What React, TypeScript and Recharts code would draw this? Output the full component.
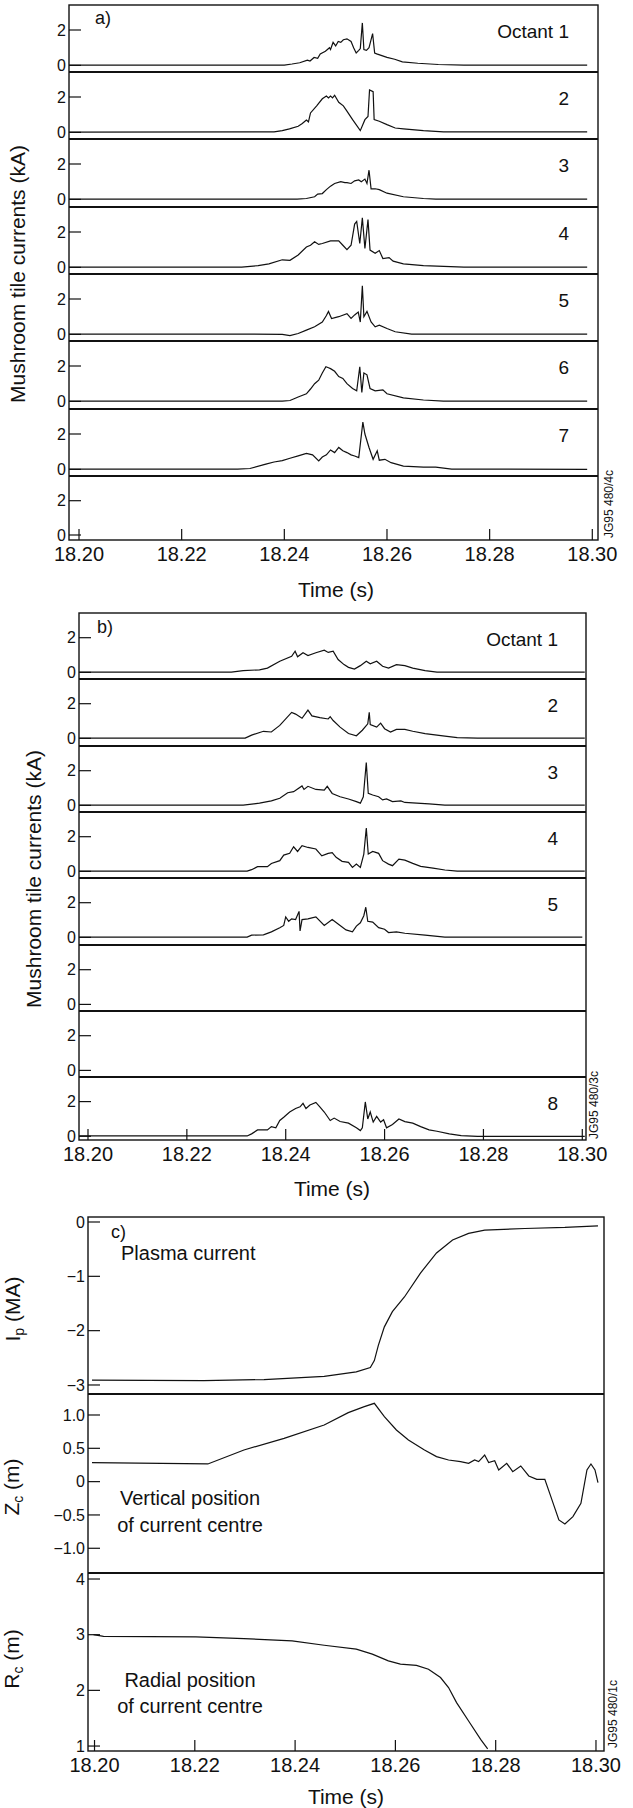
import React from "react";
import { LineChart, Line, XAxis, YAxis } from "recharts";

type Pt = [number, number];

// time axis ticks (s)
const timeTicks = [18.2, 18.22, 18.24, 18.26, 18.28, 18.3];

// ---- a) mushroom tile currents (kA), octants 1-7 ----
const aOct1: Pt[] = [
  [18.198, 0.02], [18.24, 0.02], [18.2415, 0.08], [18.243, 0.15], [18.2445, 0.3], [18.245, 0.25],
  [18.2458, 0.45], [18.2465, 0.4], [18.247, 0.65], [18.248, 0.8], [18.2488, 1.0], [18.249, 0.9],
  [18.2495, 1.3], [18.25, 1.1], [18.2505, 1.35], [18.251, 1.3], [18.2515, 1.45], [18.2522, 1.5],
  [18.253, 1.35], [18.2535, 1.0], [18.254, 0.7], [18.2545, 0.85], [18.2548, 0.95], [18.2552, 2.4],
  [18.2555, 0.9], [18.256, 0.85], [18.2565, 1.0], [18.2572, 1.8], [18.2576, 0.7], [18.258, 0.65],
  [18.259, 0.55], [18.26, 0.45], [18.2615, 0.35], [18.263, 0.2], [18.266, 0.12], [18.27, 0.05],
  [18.275, 0.02], [18.299, 0.02],
];
const aOct2: Pt[] = [
  [18.198, 0.02], [18.238, 0.03], [18.2396, 0.1], [18.241, 0.2], [18.2427, 0.35], [18.2435, 0.5],
  [18.2443, 0.7], [18.2447, 0.6], [18.2451, 1.1], [18.2463, 1.5], [18.2474, 1.9], [18.2482, 2.05],
  [18.2486, 1.95], [18.249, 2.05], [18.2494, 1.95], [18.2498, 2.1], [18.2506, 1.7], [18.2515, 1.5],
  [18.2522, 1.2], [18.2533, 0.72], [18.2548, 0.1], [18.2557, 0.72], [18.2563, 0.9], [18.2566, 2.4],
  [18.2573, 2.3], [18.2575, 0.72], [18.2585, 0.63], [18.26, 0.44], [18.2616, 0.25], [18.2632, 0.2],
  [18.2671, 0.1], [18.271, 0.03], [18.299, 0.03],
];
const aOct3: Pt[] = [
  [18.198, 0.02], [18.2425, 0.02], [18.2443, 0.05], [18.2459, 0.15], [18.2465, 0.3], [18.2474, 0.33],
  [18.2482, 0.55], [18.249, 0.75], [18.2498, 0.9], [18.251, 1.0], [18.2518, 0.95], [18.2522, 0.95],
  [18.253, 0.9], [18.2537, 1.05], [18.2545, 1.1], [18.255, 1.0], [18.2557, 1.15], [18.2561, 0.9],
  [18.2565, 1.65], [18.2569, 0.6], [18.2577, 0.6], [18.2585, 0.55], [18.26, 0.35], [18.2632, 0.15],
  [18.2671, 0.05], [18.2695, 0.02], [18.299, 0.02],
];
const aOct4: Pt[] = [
  [18.198, 0.02], [18.2317, 0.02], [18.2349, 0.1], [18.237, 0.2], [18.2396, 0.43], [18.2411, 0.4],
  [18.2427, 0.7], [18.2443, 1.15], [18.2451, 1.25], [18.2459, 1.45], [18.2467, 1.3], [18.2474, 1.35],
  [18.249, 1.5], [18.2506, 1.5], [18.2514, 1.25], [18.2522, 1.0], [18.253, 1.25], [18.2537, 2.45],
  [18.2541, 2.6], [18.2547, 1.35], [18.2552, 2.8], [18.2557, 1.07], [18.2563, 2.7], [18.2567, 0.98],
  [18.2577, 0.8], [18.2585, 0.95], [18.2592, 0.5], [18.2604, 0.55], [18.2612, 0.35], [18.2632, 0.2],
  [18.2671, 0.1], [18.275, 0.02], [18.299, 0.02],
];
const aOct5: Pt[] = [
  [18.198, 0.02], [18.2317, 0.02], [18.2396, 0.0], [18.2411, -0.07], [18.2427, 0.05], [18.2443, 0.24],
  [18.2459, 0.43], [18.2474, 0.7], [18.2482, 1.07], [18.2486, 1.3], [18.2492, 0.9], [18.2506, 1.0],
  [18.2522, 1.17], [18.253, 0.9], [18.2537, 1.1], [18.2544, 1.26], [18.2548, 0.7], [18.2552, 2.75],
  [18.2555, 1.0], [18.2561, 1.3], [18.2569, 0.7], [18.2577, 0.43], [18.2585, 0.52], [18.26, 0.33],
  [18.2616, 0.15], [18.2648, 0.02], [18.299, 0.02],
];
const aOct6: Pt[] = [
  [18.198, 0.02], [18.2396, 0.02], [18.2411, 0.05], [18.2419, 0.15], [18.2427, 0.25], [18.2443, 0.43],
  [18.2451, 0.7], [18.2459, 1.0], [18.2467, 1.2], [18.2474, 1.6], [18.2481, 1.96], [18.2486, 1.9],
  [18.249, 1.85], [18.2498, 1.7], [18.2506, 1.4], [18.2514, 1.3], [18.2522, 1.0], [18.2533, 0.73],
  [18.2541, 0.6], [18.2547, 1.96], [18.2551, 0.5], [18.2555, 1.6], [18.2561, 1.5], [18.2567, 0.73],
  [18.2577, 0.6], [18.2592, 0.65], [18.26, 0.43], [18.2632, 0.2], [18.2671, 0.08], [18.271, 0.02],
  [18.299, 0.02],
];
const aOct7: Pt[] = [
  [18.198, 0.02], [18.2309, 0.02], [18.2333, 0.05], [18.2364, 0.3], [18.238, 0.42], [18.2396, 0.5],
  [18.2411, 0.63], [18.2427, 0.76], [18.2443, 0.9], [18.2455, 0.82], [18.2467, 0.48], [18.2474, 0.7],
  [18.2482, 0.82], [18.249, 1.1], [18.2498, 0.95], [18.2506, 1.24], [18.2514, 1.05], [18.2522, 0.95],
  [18.253, 0.82], [18.2537, 0.76], [18.2545, 0.67], [18.2553, 2.67], [18.2557, 2.0], [18.2565, 1.24],
  [18.2573, 0.57], [18.2581, 1.05], [18.2585, 0.52], [18.2596, 0.57], [18.2608, 0.38], [18.2632, 0.19],
  [18.2671, 0.13], [18.2695, 0.13], [18.2726, 0.02], [18.299, 0.0],
];

// ---- b) mushroom tile currents (kA), octants 1-5 and 8 ----
const bOct1: Pt[] = [
  [18.1982, 0.02], [18.229, 0.02], [18.2314, 0.1], [18.2347, 0.15], [18.2363, 0.25], [18.2388, 0.64],
  [18.2412, 0.93], [18.2419, 1.22], [18.2424, 0.9], [18.2435, 1.13], [18.2445, 0.97], [18.2461, 1.13],
  [18.2478, 1.28], [18.2486, 1.15], [18.2496, 1.22], [18.2506, 0.74], [18.2518, 0.45], [18.2527, 0.29],
  [18.2539, 0.19], [18.2551, 0.39], [18.2563, 0.64], [18.2571, 0.5], [18.2584, 0.64], [18.2596, 0.35],
  [18.2608, 0.25], [18.2624, 0.45], [18.2641, 0.39], [18.2657, 0.25], [18.2682, 0.1], [18.2706, 0.02],
  [18.3005, 0.02],
];
const bOct2: Pt[] = [
  [18.1982, 0.02], [18.2318, 0.02], [18.2331, 0.19], [18.2355, 0.41], [18.2371, 0.37], [18.2388, 0.75],
  [18.2412, 1.5], [18.242, 1.4], [18.2433, 1.16], [18.2445, 1.63], [18.2453, 1.3], [18.2469, 1.2],
  [18.2486, 1.12], [18.249, 1.25], [18.2496, 1.03], [18.251, 0.65], [18.2527, 0.28], [18.2543, 0.15],
  [18.2555, 0.47], [18.2566, 0.84], [18.2569, 1.5], [18.2571, 0.8], [18.2584, 0.65], [18.2592, 0.88],
  [18.26, 0.56], [18.2612, 0.37], [18.2624, 0.52], [18.2641, 0.52], [18.2657, 0.41], [18.2682, 0.28],
  [18.2722, 0.13], [18.2747, 0.04], [18.2788, 0.02], [18.3005, 0.02],
];
const bOct3: Pt[] = [
  [18.1982, 0.02], [18.2314, 0.02], [18.2347, 0.13], [18.2371, 0.26], [18.2388, 0.41], [18.2404, 0.73],
  [18.2416, 0.79], [18.2433, 1.12], [18.2437, 0.92], [18.2445, 1.1], [18.2461, 0.92], [18.2478, 0.88],
  [18.2484, 1.1], [18.2494, 0.69], [18.251, 0.5], [18.2527, 0.37], [18.2543, 0.22], [18.2551, 0.13],
  [18.2557, 0.5], [18.2563, 2.47], [18.2567, 0.69], [18.2576, 0.6], [18.2588, 0.5], [18.2596, 0.32],
  [18.2604, 0.37], [18.2616, 0.22], [18.2633, 0.26], [18.2641, 0.17], [18.2665, 0.13], [18.269, 0.09],
  [18.2722, 0.02], [18.3005, 0.02],
];
const bOct4: Pt[] = [
  [18.1982, 0.02], [18.2322, 0.02], [18.2331, 0.1], [18.2343, 0.27], [18.2363, 0.27], [18.2371, 0.46],
  [18.2388, 0.62], [18.2396, 0.94], [18.2408, 1.04], [18.2416, 1.42], [18.2424, 1.15], [18.2433, 1.48],
  [18.2445, 1.38], [18.2461, 1.29], [18.2473, 0.9], [18.2486, 1.04], [18.2494, 1.08], [18.2502, 0.81],
  [18.2514, 0.58], [18.2527, 0.52], [18.2535, 0.23], [18.2543, 0.42], [18.2551, 0.23], [18.2558, 1.0],
  [18.2563, 2.5], [18.2567, 1.0], [18.2576, 1.15], [18.2588, 1.04], [18.2596, 0.62], [18.2608, 0.42],
  [18.2616, 0.33], [18.2629, 0.71], [18.2641, 0.65], [18.2657, 0.46], [18.2673, 0.29], [18.2698, 0.19],
  [18.2722, 0.08], [18.2747, 0.02], [18.3005, 0.02],
];
const bOct5: Pt[] = [
  [18.1982, 0.02], [18.2322, 0.02], [18.2331, 0.13], [18.2355, 0.15], [18.2371, 0.32], [18.2388, 0.56],
  [18.2396, 0.69], [18.24, 1.18], [18.2406, 0.93], [18.2412, 1.07], [18.242, 1.03], [18.2427, 1.5],
  [18.2429, 0.37], [18.2433, 1.03], [18.2445, 1.07], [18.2461, 1.18], [18.2478, 0.69], [18.2494, 1.03],
  [18.251, 0.69], [18.2522, 0.43], [18.2535, 0.32], [18.2543, 0.65], [18.2551, 0.84], [18.2558, 1.25],
  [18.2562, 1.74], [18.2566, 0.93], [18.2576, 0.88], [18.2588, 0.56], [18.26, 0.47], [18.2608, 0.28],
  [18.2624, 0.32], [18.2641, 0.24], [18.2682, 0.13], [18.2722, 0.02], [18.3, 0.02],
];
const bOct8: Pt[] = [
  [18.1982, 0.02], [18.2322, 0.02], [18.2331, 0.14], [18.2343, 0.37], [18.2363, 0.37], [18.2371, 0.56],
  [18.238, 0.49], [18.2388, 0.91], [18.2396, 1.1], [18.2408, 1.4], [18.242, 1.6], [18.2429, 1.7],
  [18.2435, 1.9], [18.2441, 1.6], [18.2449, 1.8], [18.2461, 1.95], [18.2469, 1.7], [18.2478, 1.4],
  [18.249, 0.91], [18.2498, 1.05], [18.251, 0.85], [18.2527, 0.76], [18.2543, 0.49], [18.2551, 0.33],
  [18.2555, 0.49], [18.2561, 1.98], [18.2566, 1.0], [18.2571, 1.4], [18.2577, 0.82], [18.2584, 1.15],
  [18.2592, 0.82], [18.2598, 0.95], [18.2604, 0.49], [18.2616, 0.68], [18.2629, 1.0], [18.2641, 0.85],
  [18.2657, 0.76], [18.2673, 0.56], [18.269, 0.37], [18.2706, 0.29], [18.2731, 0.14], [18.2755, 0.04],
  [18.2788, 0.0], [18.3005, 0.0],
];

// ---- c) plasma current (MA), vertical and radial position (m) ----
const plasmaCurrent: Pt[] = [
  [18.1995, -2.91], [18.2218, -2.92], [18.2338, -2.9], [18.2458, -2.84], [18.2522, -2.76], [18.255, -2.68],
  [18.2558, -2.55], [18.2566, -2.27], [18.2578, -1.93], [18.2594, -1.65], [18.2618, -1.38], [18.265, -0.94],
  [18.2682, -0.57], [18.2714, -0.33], [18.2746, -0.21], [18.2778, -0.15], [18.2858, -0.12], [18.2938, -0.1],
  [18.3004, -0.07],
];
const verticalPos: Pt[] = [
  [18.1995, 0.285], [18.2226, 0.265], [18.2298, 0.475], [18.2378, 0.65], [18.2458, 0.85], [18.2506, 1.035],
  [18.2538, 1.125], [18.2558, 1.175], [18.2578, 0.975], [18.2602, 0.775], [18.2626, 0.625], [18.2658, 0.475],
  [18.2682, 0.375], [18.2706, 0.325], [18.273, 0.3], [18.2746, 0.275], [18.2758, 0.325], [18.2766, 0.3],
  [18.2778, 0.4], [18.2786, 0.285], [18.2798, 0.315], [18.2806, 0.175], [18.2822, 0.275], [18.2834, 0.15],
  [18.285, 0.235], [18.2866, 0.085], [18.2882, 0.035], [18.2898, 0.035], [18.291, -0.225], [18.2926, -0.575],
  [18.2938, -0.635], [18.2954, -0.525], [18.297, -0.325], [18.2982, 0.175], [18.299, 0.265], [18.2998, 0.175],
  [18.3004, -0.015],
];
const radialPos: Pt[] = [
  [18.1998, 3.0], [18.2018, 2.97], [18.2202, 2.96], [18.2298, 2.93], [18.2394, 2.89], [18.2458, 2.81],
  [18.2522, 2.74], [18.2554, 2.65], [18.2586, 2.53], [18.261, 2.47], [18.2642, 2.45], [18.2666, 2.38],
  [18.269, 2.23], [18.2706, 2.05], [18.2722, 1.78], [18.2746, 1.45], [18.277, 1.12], [18.2784, 0.95],
];

const aLabels = ["Octant 1", "2", "3", "4", "5", "6", "7", ""];
const aTraces: (Pt[] | null)[] = [aOct1, aOct2, aOct3, aOct4, aOct5, aOct6, aOct7, null];
const bLabels = ["Octant 1", "2", "3", "4", "5", "", "", "8"];
const bTraces: (Pt[] | null)[] = [bOct1, bOct2, bOct3, bOct4, bOct5, null, null, bOct8];

const FONT = '"Liberation Sans", Arial, Helvetica, sans-serif';
const INK = "#111";
const W = 633;
const PAD = 12; // extra svg room above/below each strip so labels are never at an edge
const Y_MARGIN = 3;
const X_MARGIN = 7;

const fmtSigned = (v: number, digits = 0) =>
  v === 0 ? "0" : (v < 0 ? "\u2212" : "") + Math.abs(v).toFixed(digits);

const ValueTick = (props: any) => {
  const { x, y, payload, fmt } = props;
  const edge = x + Y_MARGIN;
  return (
    <g>
      <line x1={edge} x2={edge + 12} y1={y} y2={y} stroke={INK} strokeWidth={1.2} />
      <text x={x} y={y} dy="0.36em" textAnchor="end" fontSize={16} fontFamily={FONT} fill={INK}>
        {fmt(payload.value)}
      </text>
    </g>
  );
};

const TimeTick = (props: any) => {
  const { x, y, payload } = props;
  const edge = y - X_MARGIN;
  return (
    <g>
      <line x1={x} x2={x} y1={edge} y2={edge - 11} stroke={INK} strokeWidth={1.2} />
      <text x={x} y={y} dy="0.72em" textAnchor="middle" fontSize={20} fontFamily={FONT} fill={INK}>
        {payload.value.toFixed(2)}
      </text>
    </g>
  );
};

interface StripProps {
  top: number;
  height: number;
  left: number;
  right: number;
  xDomain: [number, number];
  yDomain: [number, number];
  yTicks: number[];
  fmt: (v: number) => string;
  data: Pt[] | null;
  showX?: boolean;
}

const Strip = ({ top, height, left, right, xDomain, yDomain, yTicks, fmt, data, showX }: StripProps) => {
  const rows = (data || []).map(([t, v]) => ({ t, v }));
  const xh = showX ? 36 : 0;
  return (
    <div style={{ position: "absolute", left: 0, top: top - PAD }}>
      <LineChart
        width={W}
        height={height + xh + 2 * PAD}
        data={rows}
        margin={{ top: PAD, right: W - right, bottom: PAD, left: 0 }}
      >
        <XAxis
          dataKey="t"
          type="number"
          domain={xDomain}
          allowDataOverflow
          hide={!showX}
          height={xh}
          ticks={timeTicks}
          interval={0}
          tickSize={0}
          tickMargin={X_MARGIN}
          tickLine={false}
          axisLine={false}
          tick={<TimeTick />}
        />
        <YAxis
          type="number"
          domain={yDomain}
          allowDataOverflow
          width={left}
          ticks={yTicks}
          interval={0}
          tickSize={0}
          tickMargin={Y_MARGIN}
          tickLine={false}
          axisLine={false}
          tick={<ValueTick fmt={fmt} />}
        />
        {data && (
          <Line
            dataKey="v"
            type="linear"
            dot={false}
            stroke={INK}
            strokeWidth={1.2}
            isAnimationActive={false}
          />
        )}
      </LineChart>
    </div>
  );
};

// strip layout for the stacked panels
const aTops = [5, 72, 139, 207, 274, 341, 409, 476];
const aBottom = 540;
const bTops = [613, 679, 746, 812, 878, 945, 1011, 1077];
const bBottom = 1140;
const cTops = [1217, 1394, 1573];
const cBottom = 1751;

const octDomain = (h: number, zeroAt: number, pxPerUnit: number): [number, number] => [
  -(h - zeroAt) / pxPerUnit,
  zeroAt / pxPerUnit,
];

const Frame = ({ left, right, tops, bottom }: { left: number; right: number; tops: number[]; bottom: number }) => (
  <g fill="none" stroke={INK}>
    <rect x={left} y={tops[0]} width={right - left} height={bottom - tops[0]} strokeWidth={1.4} />
    {tops.slice(1).map((y) => (
      <line key={y} x1={left} x2={right} y1={y} y2={y} strokeWidth={1.8} />
    ))}
  </g>
);

const Text = ({ x, y, size = 20, anchor = "start", children }: any) => (
  <text x={x} y={y} fontSize={size} fontFamily={FONT} fill={INK} textAnchor={anchor}>
    {children}
  </text>
);

const VText = ({ x, y, size = 21, children }: any) => (
  <text
    x={x}
    y={y}
    fontSize={size}
    fontFamily={FONT}
    fill={INK}
    textAnchor="middle"
    transform={`rotate(-90, ${x}, ${y})`}
  >
    {children}
  </text>
);

export default function App() {
  const aX: [number, number] = [18.19805, 18.30111];
  const bX: [number, number] = [18.19818, 18.30075];
  const cX: [number, number] = [18.1987, 18.3016];
  const octFmt = (v: number) => fmtSigned(v);

  return (
    <div
      style={{
        position: "absolute",
        left: 0,
        top: 0,
        width: W,
        height: 1808,
        background: "#fff",
        overflow: "hidden",
      }}
    >
      {aTops.map((top, i) => {
        const last = i === aTops.length - 1;
        const h = (last ? aBottom : aTops[i + 1]) - top;
        return (
          <Strip
            key={`a${i}`}
            top={top}
            height={h}
            left={69}
            right={598}
            xDomain={aX}
            yDomain={last ? octDomain(h, 59, 17.15) : octDomain(h, 60.4, 17.7)}
            yTicks={[0, 2]}
            fmt={octFmt}
            data={aTraces[i]}
            showX={last}
          />
        );
      })}
      {bTops.map((top, i) => {
        const last = i === bTops.length - 1;
        const h = (last ? bBottom : bTops[i + 1]) - top;
        return (
          <Strip
            key={`b${i}`}
            top={top}
            height={h}
            left={79}
            right={586}
            xDomain={bX}
            yDomain={last ? octDomain(h, 59.3, 17.35) : octDomain(h, 59.4, 17.35)}
            yTicks={[0, 2]}
            fmt={octFmt}
            data={bTraces[i]}
            showX={last}
          />
        );
      })}
      <Strip
        top={cTops[0]}
        height={cTops[1] - cTops[0]}
        left={88}
        right={604}
        xDomain={cX}
        yDomain={[-3.166, 0.092]}
        yTicks={[-3, -2, -1, 0]}
        fmt={(v) => fmtSigned(v)}
        data={plasmaCurrent}
      />
      <Strip
        top={cTops[1]}
        height={cTops[2] - cTops[1]}
        left={88}
        right={604}
        xDomain={cX}
        yDomain={[-1.371, 1.315]}
        yTicks={[-1, -0.5, 0, 0.5, 1]}
        fmt={(v) => fmtSigned(v, 1)}
        data={verticalPos}
      />
      <Strip
        top={cTops[2]}
        height={cBottom - cTops[2]}
        left={88}
        right={604}
        xDomain={cX}
        yDomain={[0.911, 4.108]}
        yTicks={[1, 2, 3, 4]}
        fmt={(v) => fmtSigned(v)}
        data={radialPos}
        showX
      />

      <svg
        width={W}
        height={1808}
        style={{ position: "absolute", left: 0, top: 0, pointerEvents: "none" }}
      >
        <Frame left={69} right={598} tops={aTops} bottom={aBottom} />
        <Frame left={79} right={586} tops={bTops} bottom={bBottom} />
        <Frame left={88} right={604} tops={cTops} bottom={cBottom} />

        {/* panel a */}
        <Text x={95} y={24} size={18}>a)</Text>
        {aLabels.map((lab, i) =>
          lab ? (
            <Text key={`al${i}`} x={569} y={aTops[i] + 33} size={19} anchor="end">
              {lab}
            </Text>
          ) : null
        )}
        <VText x={25} y={274}>Mushroom tile currents (kA)</VText>
        <Text x={336} y={597} size={21} anchor="middle">Time (s)</Text>
        <VText x={613} y={504} size={12}>JG95 480/4c</VText>

        {/* panel b */}
        <Text x={97} y={633} size={18}>b)</Text>
        {bLabels.map((lab, i) =>
          lab ? (
            <Text key={`bl${i}`} x={558} y={bTops[i] + 33} size={19} anchor="end">
              {lab}
            </Text>
          ) : null
        )}
        <VText x={41} y={879}>Mushroom tile currents (kA)</VText>
        <Text x={332} y={1196} size={21} anchor="middle">Time (s)</Text>
        <VText x={598} y={1105} size={12}>JG95 480/3c</VText>

        {/* panel c */}
        <Text x={111} y={1238} size={18}>c)</Text>
        <Text x={121} y={1260}>Plasma current</Text>
        <Text x={190} y={1505} anchor="middle">Vertical position</Text>
        <Text x={190} y={1532} anchor="middle">of current centre</Text>
        <Text x={190} y={1687} anchor="middle">Radial position</Text>
        <Text x={190} y={1713} anchor="middle">of current centre</Text>
        <VText x={20} y={1309}>
          I<tspan dy={4} fontSize={14}>p</tspan>
          <tspan dy={-4}> (MA)</tspan>
        </VText>
        <VText x={19} y={1487}>
          Z<tspan dy={4} fontSize={14}>c</tspan>
          <tspan dy={-4}> (m)</tspan>
        </VText>
        <VText x={19} y={1659}>
          R<tspan dy={4} fontSize={14}>c</tspan>
          <tspan dy={-4}> (m)</tspan>
        </VText>
        <Text x={346} y={1804} size={21} anchor="middle">Time (s)</Text>
        <VText x={617} y={1714} size={12}>JG95 480/1c</VText>
      </svg>
    </div>
  );
}
